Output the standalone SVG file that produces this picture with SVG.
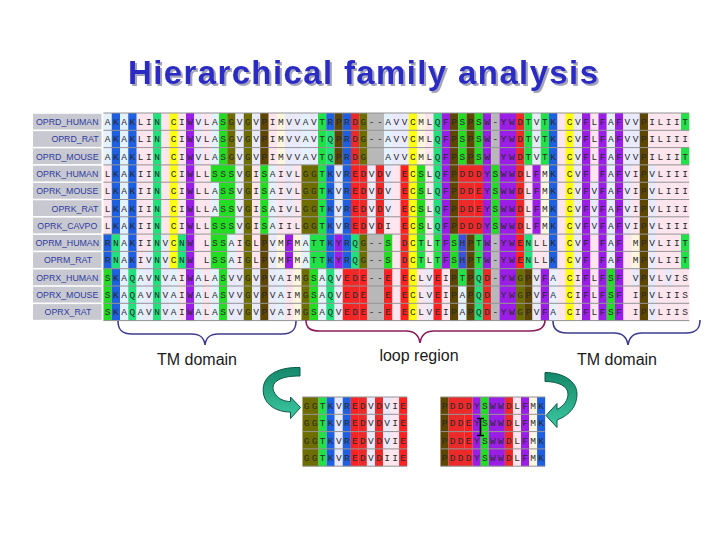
<svg xmlns="http://www.w3.org/2000/svg" width="720" height="540" viewBox="0 0 720 540">
<style>
.a{stroke:#E4F1FF}.k{stroke:#1F60E0}.h{stroke:#3B52D6}.d{stroke:#EC2A2A}.e{stroke:#FF2222}.n{stroke:#22E07C}.s{stroke:#24DC24}.t{stroke:#22E048}.g{stroke:#6E6E00}.p{stroke:#5C4600}.c{stroke:#FFFF10}.w{stroke:#9A1EE6}.v{stroke:#EAEAFF}.m{stroke:#FFF6E0}.x{stroke:#B8B8B8}
.cells line{stroke-width:1}
.seq{font-family:"Liberation Mono","DejaVu Sans Mono",monospace;font-size:9.5px;letter-spacing:2.55px;fill:#2a2a2a;white-space:pre}
.seq2{font-family:"Liberation Mono","DejaVu Sans Mono",monospace;font-size:9.5px;letter-spacing:2.35px;fill:#2a2a2a;white-space:pre}
.lbl{font-family:"Liberation Sans",Arial,sans-serif;font-size:8.8px;fill:#2E3C9E;text-anchor:middle}
.lb{fill:#C8C8D0}
.sep{stroke:#929292;stroke-width:1;fill:none}
.cap{font-family:"Liberation Sans",Arial,sans-serif;font-size:16px;fill:#1a1a1a;text-anchor:middle}
.br{fill:none;stroke-width:1.6}
.arr{fill:url(#ag);stroke:#0C5A48;stroke-width:1}
</style>
<defs>
<linearGradient id="ag" x1="0" y1="0" x2="0" y2="1"><stop offset="0" stop-color="#14876A"/><stop offset="1" stop-color="#3CC9A2"/></linearGradient>
<filter id="sh" x="-5%" y="-20%" width="110%" height="150%"><feDropShadow dx="2" dy="2" stdDeviation="0.6" flood-color="#9A9AB0" flood-opacity="0.9"/></filter>
</defs>
<rect width="720" height="540" fill="#ffffff"/>

<g id="title">
<text x="363" y="84" font-family="Liberation Sans,Arial,sans-serif" font-weight="bold" font-size="33" fill="#2B2BC4" text-anchor="middle" textLength="470" lengthAdjust="spacing" filter="url(#sh)">Hierarchical family analysis</text>
</g>

<g id="labels">
<rect class="lb" x="33" y="113.8" width="68.5" height="15.7"/>
<rect class="lb" x="33" y="131.1" width="68.5" height="15.7"/>
<rect class="lb" x="33" y="148.4" width="68.5" height="15.7"/>
<rect class="lb" x="33" y="165.7" width="68.5" height="15.7"/>
<rect class="lb" x="33" y="183" width="68.5" height="15.7"/>
<rect class="lb" x="33" y="200.3" width="68.5" height="15.7"/>
<rect class="lb" x="33" y="217.6" width="68.5" height="15.7"/>
<rect class="lb" x="33" y="234.9" width="68.5" height="15.7"/>
<rect class="lb" x="33" y="252.2" width="68.5" height="15.7"/>
<rect class="lb" x="33" y="269.5" width="68.5" height="15.7"/>
<rect class="lb" x="33" y="286.8" width="68.5" height="15.7"/>
<rect class="lb" x="33" y="304.1" width="68.5" height="15.7"/>
<text class="lbl" x="67.3" y="125">OPRD_HUMAN</text>
<text class="lbl" x="75" y="142.3">OPRD_RAT</text>
<text class="lbl" x="67.3" y="159.6">OPRD_MOUSE</text>
<text class="lbl" x="67.3" y="176.9">OPRK_HUMAN</text>
<text class="lbl" x="67.3" y="194.2">OPRK_MOUSE</text>
<text class="lbl" x="75" y="211.5">OPRK_RAT</text>
<text class="lbl" x="67.3" y="228.8">OPRK_CAVPO</text>
<text class="lbl" x="67.3" y="246.1">OPRM_HUMAN</text>
<text class="lbl" x="68" y="263.4">OPRM_RAT</text>
<text class="lbl" x="67.3" y="280.7">OPRX_HUMAN</text>
<text class="lbl" x="67.3" y="298">OPRX_MOUSE</text>
<text class="lbl" x="68" y="315.3">OPRX_RAT</text>
</g>

<g id="alignment">
<g class="cells" transform="translate(103.5,113) scale(8.25,17.3)">
<rect width="71" height="12" fill="#FFE6EE"/>
<g transform="translate(0,0.5)">
<line class="a" x1="0" x2="1"/><line class="k" x1="1" x2="2"/><line class="a" x1="2" x2="3"/><line class="k" x1="3" x2="4"/><line class="n" x1="6" x2="7"/><line class="c" x1="8" x2="9"/><line class="w" x1="10" x2="11"/><line class="v" x1="11" x2="12"/><line class="a" x1="13" x2="14"/><line class="s" x1="14" x2="15"/><line class="g" x1="15" x2="16"/><line class="v" x1="16" x2="17"/><line class="g" x1="17" x2="18"/><line class="v" x1="18" x2="19"/><line class="p" x1="19" x2="20"/><line class="m" x1="21" x2="22"/><line class="v" x1="22" x2="24"/><line class="a" x1="24" x2="25"/><line class="v" x1="25" x2="26"/><line class="t" x1="26" x2="27"/><line class="k" x1="27" x2="28"/><line class="p" x1="28" x2="29"/><line class="k" x1="29" x2="30"/><line class="d" x1="30" x2="31"/><line class="g" x1="31" x2="32"/><line class="x" x1="32" x2="34"/><line class="a" x1="34" x2="35"/><line class="v" x1="35" x2="37"/><line class="c" x1="37" x2="38"/><line class="m" x1="38" x2="39"/><line class="n" x1="40" x2="41"/><line class="w" x1="41" x2="42"/><line class="p" x1="42" x2="43"/><line class="s" x1="43" x2="44"/><line class="p" x1="44" x2="45"/><line class="s" x1="45" x2="46"/><line class="w" x1="46" x2="47"/><line class="x" x1="47" x2="48"/><line class="w" x1="48" x2="50"/><line class="d" x1="50" x2="51"/><line class="t" x1="51" x2="52"/><line class="v" x1="52" x2="53"/><line class="t" x1="53" x2="54"/><line class="k" x1="54" x2="55"/><line class="c" x1="56" x2="57"/><line class="v" x1="57" x2="58"/><line class="w" x1="58" x2="59"/><line class="w" x1="60" x2="61"/><line class="a" x1="61" x2="62"/><line class="w" x1="62" x2="63"/><line class="v" x1="63" x2="65"/><line class="p" x1="65" x2="66"/><line class="t" x1="70" x2="71"/>
</g>
<g transform="translate(0,1.5)">
<line class="a" x1="0" x2="1"/><line class="k" x1="1" x2="2"/><line class="a" x1="2" x2="3"/><line class="k" x1="3" x2="4"/><line class="n" x1="6" x2="7"/><line class="c" x1="8" x2="9"/><line class="w" x1="10" x2="11"/><line class="v" x1="11" x2="12"/><line class="a" x1="13" x2="14"/><line class="s" x1="14" x2="15"/><line class="g" x1="15" x2="16"/><line class="v" x1="16" x2="17"/><line class="g" x1="17" x2="18"/><line class="v" x1="18" x2="19"/><line class="p" x1="19" x2="20"/><line class="m" x1="21" x2="22"/><line class="v" x1="22" x2="24"/><line class="a" x1="24" x2="25"/><line class="v" x1="25" x2="26"/><line class="t" x1="26" x2="27"/><line class="n" x1="27" x2="28"/><line class="p" x1="28" x2="29"/><line class="k" x1="29" x2="30"/><line class="d" x1="30" x2="31"/><line class="g" x1="31" x2="32"/><line class="x" x1="32" x2="34"/><line class="a" x1="34" x2="35"/><line class="v" x1="35" x2="37"/><line class="c" x1="37" x2="38"/><line class="m" x1="38" x2="39"/><line class="n" x1="40" x2="41"/><line class="w" x1="41" x2="42"/><line class="p" x1="42" x2="43"/><line class="s" x1="43" x2="44"/><line class="p" x1="44" x2="45"/><line class="s" x1="45" x2="46"/><line class="w" x1="46" x2="47"/><line class="x" x1="47" x2="48"/><line class="w" x1="48" x2="50"/><line class="d" x1="50" x2="51"/><line class="t" x1="51" x2="52"/><line class="v" x1="52" x2="53"/><line class="t" x1="53" x2="54"/><line class="k" x1="54" x2="55"/><line class="c" x1="56" x2="57"/><line class="v" x1="57" x2="58"/><line class="w" x1="58" x2="59"/><line class="w" x1="60" x2="61"/><line class="a" x1="61" x2="62"/><line class="w" x1="62" x2="63"/><line class="v" x1="63" x2="65"/><line class="p" x1="65" x2="66"/>
</g>
<g transform="translate(0,2.5)">
<line class="a" x1="0" x2="1"/><line class="k" x1="1" x2="2"/><line class="a" x1="2" x2="3"/><line class="k" x1="3" x2="4"/><line class="n" x1="6" x2="7"/><line class="c" x1="8" x2="9"/><line class="w" x1="10" x2="11"/><line class="v" x1="11" x2="12"/><line class="a" x1="13" x2="14"/><line class="s" x1="14" x2="15"/><line class="g" x1="15" x2="16"/><line class="v" x1="16" x2="17"/><line class="g" x1="17" x2="18"/><line class="v" x1="18" x2="19"/><line class="p" x1="19" x2="20"/><line class="m" x1="21" x2="22"/><line class="v" x1="22" x2="24"/><line class="a" x1="24" x2="25"/><line class="v" x1="25" x2="26"/><line class="t" x1="26" x2="27"/><line class="n" x1="27" x2="28"/><line class="p" x1="28" x2="29"/><line class="k" x1="29" x2="30"/><line class="d" x1="30" x2="31"/><line class="g" x1="31" x2="32"/><line class="x" x1="32" x2="34"/><line class="a" x1="34" x2="35"/><line class="v" x1="35" x2="37"/><line class="c" x1="37" x2="38"/><line class="m" x1="38" x2="39"/><line class="n" x1="40" x2="41"/><line class="w" x1="41" x2="42"/><line class="p" x1="42" x2="43"/><line class="s" x1="43" x2="44"/><line class="p" x1="44" x2="45"/><line class="s" x1="45" x2="46"/><line class="w" x1="46" x2="47"/><line class="x" x1="47" x2="48"/><line class="w" x1="48" x2="50"/><line class="d" x1="50" x2="51"/><line class="t" x1="51" x2="52"/><line class="v" x1="52" x2="53"/><line class="t" x1="53" x2="54"/><line class="k" x1="54" x2="55"/><line class="c" x1="56" x2="57"/><line class="v" x1="57" x2="58"/><line class="w" x1="58" x2="59"/><line class="w" x1="60" x2="61"/><line class="a" x1="61" x2="62"/><line class="w" x1="62" x2="63"/><line class="v" x1="63" x2="65"/><line class="p" x1="65" x2="66"/><line class="t" x1="70" x2="71"/>
</g>
<g transform="translate(0,3.5)">
<line class="k" x1="1" x2="2"/><line class="a" x1="2" x2="3"/><line class="k" x1="3" x2="4"/><line class="n" x1="6" x2="7"/><line class="c" x1="8" x2="9"/><line class="w" x1="10" x2="11"/><line class="s" x1="13" x2="16"/><line class="v" x1="16" x2="17"/><line class="g" x1="17" x2="18"/><line class="s" x1="19" x2="20"/><line class="a" x1="20" x2="21"/><line class="v" x1="22" x2="23"/><line class="g" x1="24" x2="26"/><line class="t" x1="26" x2="27"/><line class="k" x1="27" x2="28"/><line class="v" x1="28" x2="29"/><line class="k" x1="29" x2="30"/><line class="e" x1="30" x2="31"/><line class="d" x1="31" x2="32"/><line class="v" x1="32" x2="33"/><line class="d" x1="33" x2="34"/><line class="v" x1="34" x2="35"/><line class="e" x1="36" x2="37"/><line class="c" x1="37" x2="38"/><line class="s" x1="38" x2="39"/><line class="n" x1="40" x2="41"/><line class="w" x1="41" x2="42"/><line class="p" x1="42" x2="43"/><line class="d" x1="43" x2="46"/><line class="w" x1="46" x2="47"/><line class="s" x1="47" x2="48"/><line class="w" x1="48" x2="50"/><line class="d" x1="50" x2="51"/><line class="w" x1="52" x2="53"/><line class="m" x1="53" x2="54"/><line class="k" x1="54" x2="55"/><line class="c" x1="56" x2="57"/><line class="v" x1="57" x2="58"/><line class="w" x1="58" x2="59"/><line class="w" x1="60" x2="61"/><line class="a" x1="61" x2="62"/><line class="w" x1="62" x2="63"/><line class="v" x1="63" x2="64"/><line class="p" x1="65" x2="66"/><line class="v" x1="66" x2="67"/>
</g>
<g transform="translate(0,4.5)">
<line class="k" x1="1" x2="2"/><line class="a" x1="2" x2="3"/><line class="k" x1="3" x2="4"/><line class="n" x1="6" x2="7"/><line class="c" x1="8" x2="9"/><line class="w" x1="10" x2="11"/><line class="a" x1="13" x2="14"/><line class="s" x1="14" x2="16"/><line class="v" x1="16" x2="17"/><line class="g" x1="17" x2="18"/><line class="s" x1="19" x2="20"/><line class="a" x1="20" x2="21"/><line class="v" x1="22" x2="23"/><line class="g" x1="24" x2="26"/><line class="t" x1="26" x2="27"/><line class="k" x1="27" x2="28"/><line class="v" x1="28" x2="29"/><line class="k" x1="29" x2="30"/><line class="e" x1="30" x2="31"/><line class="d" x1="31" x2="32"/><line class="v" x1="32" x2="33"/><line class="d" x1="33" x2="34"/><line class="v" x1="34" x2="35"/><line class="e" x1="36" x2="37"/><line class="c" x1="37" x2="38"/><line class="s" x1="38" x2="39"/><line class="n" x1="40" x2="41"/><line class="w" x1="41" x2="42"/><line class="p" x1="42" x2="43"/><line class="d" x1="43" x2="45"/><line class="e" x1="45" x2="46"/><line class="w" x1="46" x2="47"/><line class="s" x1="47" x2="48"/><line class="w" x1="48" x2="50"/><line class="d" x1="50" x2="51"/><line class="w" x1="52" x2="53"/><line class="m" x1="53" x2="54"/><line class="k" x1="54" x2="55"/><line class="c" x1="56" x2="57"/><line class="v" x1="57" x2="58"/><line class="w" x1="58" x2="59"/><line class="v" x1="59" x2="60"/><line class="w" x1="60" x2="61"/><line class="a" x1="61" x2="62"/><line class="w" x1="62" x2="63"/><line class="v" x1="63" x2="64"/><line class="p" x1="65" x2="66"/><line class="v" x1="66" x2="67"/>
</g>
<g transform="translate(0,5.5)">
<line class="k" x1="1" x2="2"/><line class="a" x1="2" x2="3"/><line class="k" x1="3" x2="4"/><line class="n" x1="6" x2="7"/><line class="c" x1="8" x2="9"/><line class="w" x1="10" x2="11"/><line class="a" x1="13" x2="14"/><line class="s" x1="14" x2="16"/><line class="v" x1="16" x2="17"/><line class="g" x1="17" x2="18"/><line class="s" x1="19" x2="20"/><line class="a" x1="20" x2="21"/><line class="v" x1="22" x2="23"/><line class="g" x1="24" x2="26"/><line class="t" x1="26" x2="27"/><line class="k" x1="27" x2="28"/><line class="v" x1="28" x2="29"/><line class="k" x1="29" x2="30"/><line class="e" x1="30" x2="31"/><line class="d" x1="31" x2="32"/><line class="v" x1="32" x2="33"/><line class="d" x1="33" x2="34"/><line class="v" x1="34" x2="35"/><line class="e" x1="36" x2="37"/><line class="c" x1="37" x2="38"/><line class="s" x1="38" x2="39"/><line class="n" x1="40" x2="41"/><line class="w" x1="41" x2="42"/><line class="p" x1="42" x2="43"/><line class="d" x1="43" x2="45"/><line class="e" x1="45" x2="46"/><line class="w" x1="46" x2="47"/><line class="s" x1="47" x2="48"/><line class="w" x1="48" x2="50"/><line class="d" x1="50" x2="51"/><line class="w" x1="52" x2="53"/><line class="m" x1="53" x2="54"/><line class="k" x1="54" x2="55"/><line class="c" x1="56" x2="57"/><line class="v" x1="57" x2="58"/><line class="w" x1="58" x2="59"/><line class="v" x1="59" x2="60"/><line class="w" x1="60" x2="61"/><line class="a" x1="61" x2="62"/><line class="w" x1="62" x2="63"/><line class="v" x1="63" x2="64"/><line class="p" x1="65" x2="66"/><line class="v" x1="66" x2="67"/>
</g>
<g transform="translate(0,6.5)">
<line class="k" x1="1" x2="2"/><line class="a" x1="2" x2="3"/><line class="k" x1="3" x2="4"/><line class="n" x1="6" x2="7"/><line class="c" x1="8" x2="9"/><line class="w" x1="10" x2="11"/><line class="s" x1="13" x2="16"/><line class="v" x1="16" x2="17"/><line class="g" x1="17" x2="18"/><line class="s" x1="19" x2="20"/><line class="a" x1="20" x2="21"/><line class="g" x1="24" x2="26"/><line class="t" x1="26" x2="27"/><line class="k" x1="27" x2="28"/><line class="v" x1="28" x2="29"/><line class="k" x1="29" x2="30"/><line class="e" x1="30" x2="31"/><line class="d" x1="31" x2="32"/><line class="v" x1="32" x2="33"/><line class="d" x1="33" x2="34"/><line class="e" x1="36" x2="37"/><line class="c" x1="37" x2="38"/><line class="s" x1="38" x2="39"/><line class="n" x1="40" x2="41"/><line class="w" x1="41" x2="42"/><line class="p" x1="42" x2="43"/><line class="d" x1="43" x2="46"/><line class="w" x1="46" x2="47"/><line class="s" x1="47" x2="48"/><line class="w" x1="48" x2="50"/><line class="d" x1="50" x2="51"/><line class="w" x1="52" x2="53"/><line class="m" x1="53" x2="54"/><line class="k" x1="54" x2="55"/><line class="c" x1="56" x2="57"/><line class="v" x1="57" x2="58"/><line class="w" x1="58" x2="59"/><line class="v" x1="59" x2="60"/><line class="w" x1="60" x2="61"/><line class="a" x1="61" x2="62"/><line class="w" x1="62" x2="63"/><line class="v" x1="63" x2="64"/><line class="p" x1="65" x2="66"/><line class="v" x1="66" x2="67"/>
</g>
<g transform="translate(0,7.5)">
<line class="k" x1="0" x2="1"/><line class="n" x1="1" x2="2"/><line class="a" x1="2" x2="3"/><line class="k" x1="3" x2="4"/><line class="n" x1="6" x2="7"/><line class="v" x1="7" x2="8"/><line class="c" x1="8" x2="9"/><line class="n" x1="9" x2="10"/><line class="w" x1="10" x2="11"/><line class="s" x1="13" x2="15"/><line class="a" x1="15" x2="16"/><line class="g" x1="17" x2="18"/><line class="p" x1="19" x2="20"/><line class="v" x1="20" x2="21"/><line class="m" x1="21" x2="22"/><line class="w" x1="22" x2="23"/><line class="m" x1="23" x2="24"/><line class="a" x1="24" x2="25"/><line class="t" x1="25" x2="27"/><line class="k" x1="27" x2="28"/><line class="w" x1="28" x2="29"/><line class="k" x1="29" x2="30"/><line class="n" x1="30" x2="31"/><line class="g" x1="31" x2="32"/><line class="x" x1="32" x2="34"/><line class="s" x1="34" x2="35"/><line class="d" x1="36" x2="37"/><line class="c" x1="37" x2="38"/><line class="t" x1="38" x2="39"/><line class="t" x1="40" x2="41"/><line class="w" x1="41" x2="42"/><line class="s" x1="42" x2="43"/><line class="h" x1="43" x2="44"/><line class="p" x1="44" x2="45"/><line class="t" x1="45" x2="46"/><line class="w" x1="46" x2="47"/><line class="x" x1="47" x2="48"/><line class="w" x1="48" x2="50"/><line class="e" x1="50" x2="51"/><line class="n" x1="51" x2="52"/><line class="k" x1="54" x2="55"/><line class="c" x1="56" x2="57"/><line class="v" x1="57" x2="58"/><line class="w" x1="58" x2="59"/><line class="w" x1="60" x2="61"/><line class="a" x1="61" x2="62"/><line class="w" x1="62" x2="63"/><line class="m" x1="64" x2="65"/><line class="p" x1="65" x2="66"/><line class="v" x1="66" x2="67"/><line class="t" x1="70" x2="71"/>
</g>
<g transform="translate(0,8.5)">
<line class="k" x1="0" x2="1"/><line class="n" x1="1" x2="2"/><line class="a" x1="2" x2="3"/><line class="k" x1="3" x2="4"/><line class="v" x1="5" x2="6"/><line class="n" x1="6" x2="7"/><line class="v" x1="7" x2="8"/><line class="c" x1="8" x2="9"/><line class="n" x1="9" x2="10"/><line class="w" x1="10" x2="11"/><line class="s" x1="13" x2="15"/><line class="a" x1="15" x2="16"/><line class="g" x1="17" x2="18"/><line class="p" x1="19" x2="20"/><line class="v" x1="20" x2="21"/><line class="m" x1="21" x2="22"/><line class="w" x1="22" x2="23"/><line class="m" x1="23" x2="24"/><line class="a" x1="24" x2="25"/><line class="t" x1="25" x2="27"/><line class="k" x1="27" x2="28"/><line class="w" x1="28" x2="29"/><line class="k" x1="29" x2="30"/><line class="n" x1="30" x2="31"/><line class="g" x1="31" x2="32"/><line class="x" x1="32" x2="34"/><line class="s" x1="34" x2="35"/><line class="d" x1="36" x2="37"/><line class="c" x1="37" x2="38"/><line class="t" x1="38" x2="39"/><line class="t" x1="40" x2="41"/><line class="w" x1="41" x2="42"/><line class="s" x1="42" x2="43"/><line class="h" x1="43" x2="44"/><line class="p" x1="44" x2="45"/><line class="t" x1="45" x2="46"/><line class="w" x1="46" x2="47"/><line class="x" x1="47" x2="48"/><line class="w" x1="48" x2="50"/><line class="e" x1="50" x2="51"/><line class="n" x1="51" x2="52"/><line class="k" x1="54" x2="55"/><line class="c" x1="56" x2="57"/><line class="v" x1="57" x2="58"/><line class="w" x1="58" x2="59"/><line class="w" x1="60" x2="61"/><line class="a" x1="61" x2="62"/><line class="w" x1="62" x2="63"/><line class="m" x1="64" x2="65"/><line class="p" x1="65" x2="66"/><line class="v" x1="66" x2="67"/><line class="t" x1="70" x2="71"/>
</g>
<g transform="translate(0,9.5)">
<line class="s" x1="0" x2="1"/><line class="k" x1="1" x2="2"/><line class="a" x1="2" x2="3"/><line class="n" x1="3" x2="4"/><line class="a" x1="4" x2="5"/><line class="v" x1="5" x2="6"/><line class="n" x1="6" x2="7"/><line class="v" x1="7" x2="8"/><line class="a" x1="8" x2="9"/><line class="w" x1="10" x2="11"/><line class="a" x1="11" x2="12"/><line class="a" x1="13" x2="14"/><line class="s" x1="14" x2="15"/><line class="v" x1="15" x2="17"/><line class="g" x1="17" x2="18"/><line class="v" x1="18" x2="19"/><line class="p" x1="19" x2="20"/><line class="v" x1="20" x2="21"/><line class="a" x1="21" x2="22"/><line class="m" x1="23" x2="24"/><line class="g" x1="24" x2="25"/><line class="s" x1="25" x2="26"/><line class="a" x1="26" x2="27"/><line class="n" x1="27" x2="28"/><line class="v" x1="28" x2="29"/><line class="e" x1="29" x2="30"/><line class="d" x1="30" x2="31"/><line class="e" x1="31" x2="32"/><line class="x" x1="32" x2="34"/><line class="e" x1="34" x2="35"/><line class="e" x1="36" x2="37"/><line class="c" x1="37" x2="38"/><line class="v" x1="39" x2="40"/><line class="e" x1="40" x2="41"/><line class="p" x1="42" x2="43"/><line class="t" x1="43" x2="44"/><line class="p" x1="44" x2="45"/><line class="n" x1="45" x2="46"/><line class="d" x1="46" x2="47"/><line class="x" x1="47" x2="48"/><line class="w" x1="48" x2="50"/><line class="g" x1="50" x2="51"/><line class="p" x1="51" x2="52"/><line class="v" x1="52" x2="53"/><line class="w" x1="53" x2="54"/><line class="a" x1="54" x2="55"/><line class="c" x1="56" x2="57"/><line class="w" x1="58" x2="59"/><line class="w" x1="60" x2="61"/><line class="s" x1="61" x2="62"/><line class="w" x1="62" x2="63"/><line class="v" x1="64" x2="65"/><line class="p" x1="65" x2="66"/><line class="v" x1="66" x2="67"/><line class="v" x1="68" x2="69"/>
</g>
<g transform="translate(0,10.5)">
<line class="s" x1="0" x2="1"/><line class="k" x1="1" x2="2"/><line class="a" x1="2" x2="3"/><line class="n" x1="3" x2="4"/><line class="a" x1="4" x2="5"/><line class="v" x1="5" x2="6"/><line class="n" x1="6" x2="7"/><line class="v" x1="7" x2="8"/><line class="a" x1="8" x2="9"/><line class="w" x1="10" x2="11"/><line class="a" x1="11" x2="12"/><line class="a" x1="13" x2="14"/><line class="s" x1="14" x2="15"/><line class="v" x1="15" x2="17"/><line class="g" x1="17" x2="18"/><line class="v" x1="18" x2="19"/><line class="p" x1="19" x2="20"/><line class="v" x1="20" x2="21"/><line class="a" x1="21" x2="22"/><line class="m" x1="23" x2="24"/><line class="g" x1="24" x2="25"/><line class="s" x1="25" x2="26"/><line class="a" x1="26" x2="27"/><line class="n" x1="27" x2="28"/><line class="v" x1="28" x2="29"/><line class="e" x1="29" x2="30"/><line class="d" x1="30" x2="31"/><line class="e" x1="31" x2="32"/><line class="x" x1="32" x2="34"/><line class="e" x1="34" x2="35"/><line class="e" x1="36" x2="37"/><line class="c" x1="37" x2="38"/><line class="v" x1="39" x2="40"/><line class="e" x1="40" x2="41"/><line class="p" x1="42" x2="43"/><line class="a" x1="43" x2="44"/><line class="p" x1="44" x2="45"/><line class="n" x1="45" x2="46"/><line class="d" x1="46" x2="47"/><line class="x" x1="47" x2="48"/><line class="w" x1="48" x2="50"/><line class="g" x1="50" x2="51"/><line class="p" x1="51" x2="52"/><line class="v" x1="52" x2="53"/><line class="w" x1="53" x2="54"/><line class="a" x1="54" x2="55"/><line class="c" x1="56" x2="57"/><line class="w" x1="58" x2="59"/><line class="w" x1="60" x2="61"/><line class="s" x1="61" x2="62"/><line class="w" x1="62" x2="63"/><line class="p" x1="65" x2="66"/><line class="v" x1="66" x2="67"/>
</g>
<g transform="translate(0,11.5)">
<line class="s" x1="0" x2="1"/><line class="k" x1="1" x2="2"/><line class="a" x1="2" x2="3"/><line class="n" x1="3" x2="4"/><line class="a" x1="4" x2="5"/><line class="v" x1="5" x2="6"/><line class="n" x1="6" x2="7"/><line class="v" x1="7" x2="8"/><line class="a" x1="8" x2="9"/><line class="w" x1="10" x2="11"/><line class="a" x1="11" x2="12"/><line class="a" x1="13" x2="14"/><line class="s" x1="14" x2="15"/><line class="v" x1="15" x2="17"/><line class="g" x1="17" x2="18"/><line class="v" x1="18" x2="19"/><line class="p" x1="19" x2="20"/><line class="v" x1="20" x2="21"/><line class="a" x1="21" x2="22"/><line class="m" x1="23" x2="24"/><line class="g" x1="24" x2="25"/><line class="s" x1="25" x2="26"/><line class="a" x1="26" x2="27"/><line class="n" x1="27" x2="28"/><line class="v" x1="28" x2="29"/><line class="e" x1="29" x2="30"/><line class="d" x1="30" x2="31"/><line class="e" x1="31" x2="32"/><line class="x" x1="32" x2="34"/><line class="e" x1="34" x2="35"/><line class="e" x1="36" x2="37"/><line class="c" x1="37" x2="38"/><line class="v" x1="39" x2="40"/><line class="e" x1="40" x2="41"/><line class="p" x1="42" x2="43"/><line class="a" x1="43" x2="44"/><line class="p" x1="44" x2="45"/><line class="n" x1="45" x2="46"/><line class="d" x1="46" x2="47"/><line class="x" x1="47" x2="48"/><line class="w" x1="48" x2="50"/><line class="g" x1="50" x2="51"/><line class="p" x1="51" x2="52"/><line class="v" x1="52" x2="53"/><line class="w" x1="53" x2="54"/><line class="a" x1="54" x2="55"/><line class="c" x1="56" x2="57"/><line class="w" x1="58" x2="59"/><line class="w" x1="60" x2="61"/><line class="s" x1="61" x2="62"/><line class="w" x1="62" x2="63"/><line class="p" x1="65" x2="66"/><line class="v" x1="66" x2="67"/>
</g>
</g>
<path class="sep" d="M103.5 113H689.3M103.5 130.3H689.3M103.5 147.6H689.3M103.5 164.9H689.3M103.5 182.2H689.3M103.5 199.5H689.3M103.5 216.8H689.3M103.5 234.1H689.3M103.5 251.4H689.3M103.5 268.7H689.3M103.5 286H689.3M103.5 303.3H689.3M103.5 320.6H689.3"/>
<text class="seq" x="104.8" y="125">AKAKLIN CIWVLASGVGVPIMVVAVTRPRDG--AVVCMLQFPSPSW-YWDTVTK CVFLFAFVVPILIIT</text>
<text class="seq" x="104.8" y="142.3">AKAKLIN CIWVLASGVGVPIMVVAVTQPRDG--AVVCMLQFPSPSW-YWDTVTK CVFLFAFVVPILIII</text>
<text class="seq" x="104.8" y="159.6">AKAKLIN CIWVLASGVGVPIMVVAVTQPRDG  AVVCMLQFPSPSW YWDTVTK CVFLFAFVVPILIIT</text>
<text class="seq" x="104.8" y="176.9">LKAKIIN CIWLLSSSVGISAIVLGGTKVREDVDV ECSLQFPDDDYSWWDLFMK CVF FAFVIPVLIII</text>
<text class="seq" x="104.8" y="194.2">LKAKIIN CIWLLASSVGISAIVLGGTKVREDVDV ECSLQFPDDEYSWWDLFMK CVFVFAFVIPVLIII</text>
<text class="seq" x="104.8" y="211.5">LKAKIIN CIWLLASSVGISAIVLGGTKVREDVDV ECSLQFPDDEYSWWDLFMK CVFVFAFVIPVLIII</text>
<text class="seq" x="104.8" y="228.8">LKAKIIN CIWLLSSSVGISAIILGGTKVREDVDI ECSLQFPDDDYSWWDLFMK CVFVFAFVIPVLIII</text>
<text class="seq" x="104.8" y="246.1">RNAKIINVCNW LSSAIGLPVMFMATTKYRQG--S DCTLTFSHPTW-YWENLLK CVF FAF MPVLIIT</text>
<text class="seq" x="104.8" y="263.4">RNAKIVNVCNW LSSAIGLPVMFMATTKYRQG--S DCTLTFSHPTW-YWENLLK CVF FAF MPVLIIT</text>
<text class="seq" x="104.8" y="280.7">SKAQAVNVAIWALASVVGVPVAIMGSAQVEDE--E ECLVEIPTPQD-YWGPVFA CIFLFSF VPVLVIS</text>
<text class="seq" x="104.8" y="298">SKAQAVNVAIWALASVVGVPVAIMGSAQVEDE  E ECLVEIPAPQD YWGPVFA CIFLFSF IPVLIIS</text>
<text class="seq" x="104.8" y="315.3">SKAQAVNVAIWALASVVGVPVAIMGSAQVEDE--E ECLVEIPAPQD-YWGPVFA CIFLFSF IPVLIIS</text>
</g>

<g id="loop_left">
<g class="cells" transform="translate(302.5,397) scale(8.05,17.3)">
<rect width="13" height="4" fill="#FFE6EE"/>
<g transform="translate(0,0.5)"><line class="g" x1="0" x2="2"/><line class="t" x1="2" x2="3"/><line class="k" x1="3" x2="4"/><line class="v" x1="4" x2="5"/><line class="k" x1="5" x2="6"/><line class="e" x1="6" x2="7"/><line class="d" x1="7" x2="8"/><line class="v" x1="8" x2="9"/><line class="d" x1="9" x2="10"/><line class="v" x1="10" x2="11"/><line class="e" x1="12" x2="13"/></g>
<g transform="translate(0,1.5)"><line class="g" x1="0" x2="2"/><line class="t" x1="2" x2="3"/><line class="k" x1="3" x2="4"/><line class="v" x1="4" x2="5"/><line class="k" x1="5" x2="6"/><line class="e" x1="6" x2="7"/><line class="d" x1="7" x2="8"/><line class="v" x1="8" x2="9"/><line class="d" x1="9" x2="10"/><line class="v" x1="10" x2="11"/><line class="e" x1="12" x2="13"/></g>
<g transform="translate(0,2.5)"><line class="g" x1="0" x2="2"/><line class="t" x1="2" x2="3"/><line class="k" x1="3" x2="4"/><line class="v" x1="4" x2="5"/><line class="k" x1="5" x2="6"/><line class="e" x1="6" x2="7"/><line class="d" x1="7" x2="8"/><line class="v" x1="8" x2="9"/><line class="d" x1="9" x2="10"/><line class="v" x1="10" x2="11"/><line class="e" x1="12" x2="13"/></g>
<g transform="translate(0,3.5)"><line class="g" x1="0" x2="2"/><line class="t" x1="2" x2="3"/><line class="k" x1="3" x2="4"/><line class="v" x1="4" x2="5"/><line class="k" x1="5" x2="6"/><line class="e" x1="6" x2="7"/><line class="d" x1="7" x2="8"/><line class="v" x1="8" x2="9"/><line class="d" x1="9" x2="10"/><line class="e" x1="12" x2="13"/></g>
</g>
<path class="sep" d="M302.5 397H407.2M302.5 414.3H407.2M302.5 431.6H407.2M302.5 448.9H407.2M302.5 466.2H407.2"/>
<text class="seq2" x="303.7" y="409">GGTKVREDVDVIE</text>
<text class="seq2" x="303.7" y="426.3">GGTKVREDVDVIE</text>
<text class="seq2" x="303.7" y="443.6">GGTKVREDVDVIE</text>
<text class="seq2" x="303.7" y="460.9">GGTKVREDVDIIE</text>
</g>

<g id="loop_right">
<g class="cells" transform="translate(440.5,397) scale(8.05,17.3)">
<rect width="13" height="4" fill="#FFE6EE"/>
<g transform="translate(0,0.5)"><line class="p" x1="0" x2="1"/><line class="d" x1="1" x2="4"/><line class="w" x1="4" x2="5"/><line class="s" x1="5" x2="6"/><line class="w" x1="6" x2="8"/><line class="d" x1="8" x2="9"/><line class="w" x1="10" x2="11"/><line class="m" x1="11" x2="12"/><line class="k" x1="12" x2="13"/></g>
<g transform="translate(0,1.5)"><line class="p" x1="0" x2="1"/><line class="d" x1="1" x2="3"/><line class="e" x1="3" x2="4"/><line class="w" x1="4" x2="5"/><line class="s" x1="5" x2="6"/><line class="w" x1="6" x2="8"/><line class="d" x1="8" x2="9"/><line class="w" x1="10" x2="11"/><line class="m" x1="11" x2="12"/><line class="k" x1="12" x2="13"/></g>
<g transform="translate(0,2.5)"><line class="p" x1="0" x2="1"/><line class="d" x1="1" x2="3"/><line class="e" x1="3" x2="4"/><line class="w" x1="4" x2="5"/><line class="s" x1="5" x2="6"/><line class="w" x1="6" x2="8"/><line class="d" x1="8" x2="9"/><line class="w" x1="10" x2="11"/><line class="m" x1="11" x2="12"/><line class="k" x1="12" x2="13"/></g>
<g transform="translate(0,3.5)"><line class="p" x1="0" x2="1"/><line class="d" x1="1" x2="4"/><line class="w" x1="4" x2="5"/><line class="s" x1="5" x2="6"/><line class="w" x1="6" x2="8"/><line class="d" x1="8" x2="9"/><line class="w" x1="10" x2="11"/><line class="m" x1="11" x2="12"/><line class="k" x1="12" x2="13"/></g>
</g>
<path class="sep" d="M440.5 397H545.2M440.5 414.3H545.2M440.5 431.6H545.2M440.5 448.9H545.2M440.5 466.2H545.2"/>
<text class="seq2" x="441.7" y="409">PDDDYSWWDLFMK</text>
<text class="seq2" x="441.7" y="426.3">PDDEYSWWDLFMK</text>
<text class="seq2" x="441.7" y="443.6">PDDEYSWWDLFMK</text>
<text class="seq2" x="441.7" y="460.9">PDDDYSWWDLFMK</text>
<path d="M477 418.5H484M480.5 418.5V435.5M477 435.5H484" stroke="#000" stroke-width="1.6" fill="none"/>
</g>

<g id="domain_labels">
<text class="cap" x="197" y="365">TM domain</text>
<text class="cap" x="419" y="361">loop region</text>
<text class="cap" x="617" y="365">TM domain</text>
</g>

<g id="connectors">
<path class="br" stroke="#3C3C8C" d="M118,321 C118,330 122,334 132,334 L192,334 C201,334 204,338 205,345 C206,338 209,334 218,334 L282,334 C292,334 296,330 296,321"/>
<path class="br" stroke="#8C1C5C" d="M306,320 C306,328 310,331 320,331 L406,331 C415,331 419,336 420,343 C421,336 425,331 434,331 L530,331 C540,331 545,328 545,320"/>
<path class="br" stroke="#3C3C8C" d="M553,321 C553,329 557,333 567,333 L614,333 C623,333 627,338 628,345 C629,338 633,333 642,333 L686,333 C696,333 700,329 700,320"/>
<path class="arr" d="M300,367.5 C283,367 268,372 264,384 C261,395 266,405 277,409.5 C282,411.5 286,412 290.5,412 L290.5,418.5 L300.5,407.5 L290.5,397 L290.5,401.5 C284,401.5 279,399 276,395 C272,390 272,385 276,381.5 C282,377 290,376 300,376 Z"/>
<path class="arr" d="M545,372.5 C563,372.5 577,381 577,394 C577,406 570,415 557,420 L557,427.5 L546,415.5 L557,403.5 L557,409.5 C564,406 568,400 568,394 C568,386 558,381.5 545,381.5 Z"/>
</g>
</svg>
